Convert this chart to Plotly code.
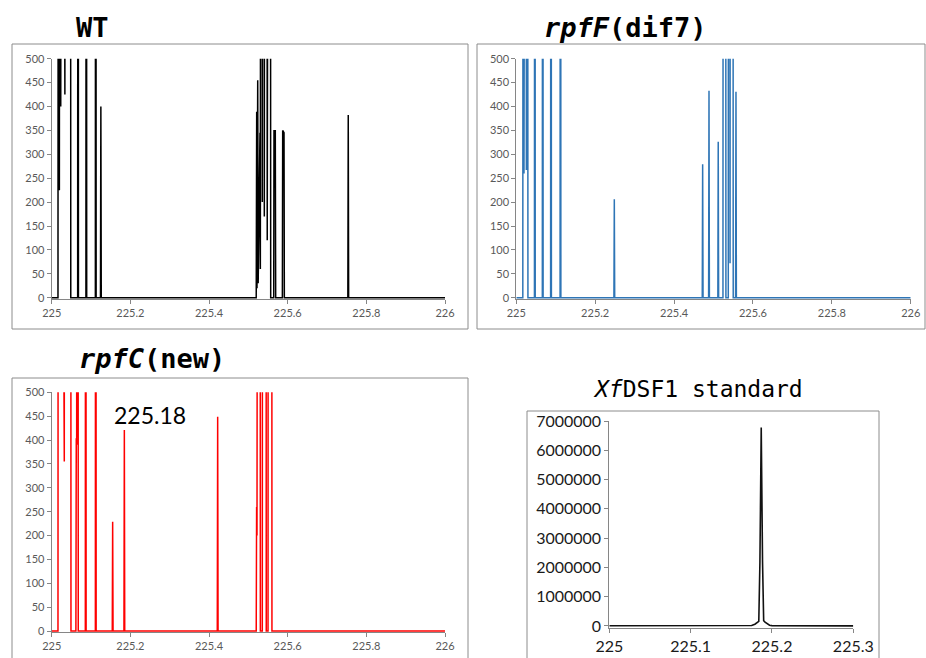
import plotly.graph_objects as go

W, H = 926, 658

# ---------------- data (m/z profile points, intensity) ----------------
WT_mz = [225.000, 225.016, 225.0175, 225.0195, 225.0215, 225.023, 225.0245, 225.0265, 225.0335, 225.035,
         225.047, 225.0485, 225.066, 225.067, 225.068, 225.087, 225.088, 225.089, 225.111, 225.112,
         225.113, 225.124, 225.125, 225.126,
         225.520, 225.5212, 225.522, 225.5238, 225.5250, 225.5296, 225.5305, 225.5322, 225.5345, 225.5355,
         225.5368, 225.5392, 225.5406, 225.5420, 225.5467, 225.5480, 225.5533, 225.5555, 225.5568,
         225.5645, 225.5652, 225.5668, 225.5685, 225.5695, 225.5865, 225.5873, 225.5907, 225.5915,
         225.753, 225.754, 225.755, 226.000]
WT_int = [0, 0, 3000, 225, 3000, 400, 3000, 3000, 425, 3000,
          3000, 0, 0, 3000, 0, 0, 3000, 0, 0, 3000,
          0, 0, 400, 0,
          0, 389, 20, 455, 30, 345, 60, 3000, 3000, 200,
          3000, 3000, 170, 3000, 3000, 120, 3000, 3000, 0,
          0, 351, 240, 351, 0, 0, 350, 345, 0,
          0, 382, 0, 0]

F_mz = [225.000, 225.0165, 225.018, 225.0195, 225.021, 225.0245, 225.0255, 225.0265, 225.028, 225.0295,
        225.046, 225.047, 225.048, 225.066, 225.067, 225.068, 225.087, 225.088, 225.089, 225.111,
        225.112, 225.113, 225.2475, 225.2485, 225.2495,
        225.4715, 225.4725, 225.4735, 225.4876, 225.4886, 225.4896, 225.511, 225.512, 225.513,
        225.524, 225.525, 225.530, 225.5315, 225.5375, 225.5385, 225.541, 225.542, 225.543, 225.5487,
        225.550, 225.556, 225.557, 225.558, 226.000]
F_int = [0, 0, 3000, 260, 3000, 3000, 267, 3000, 3000, 0,
         0, 3000, 0, 0, 3000, 0, 0, 3000, 0, 0,
         3000, 0, 0, 206, 0,
         0, 279, 0, 0, 433, 0, 0, 326, 0,
         0, 3000, 3000, 0, 0, 3000, 3000, 72, 3000, 3000,
         0, 0, 431, 0, 0]

C_mz = [225.000, 225.016, 225.017, 225.030, 225.032, 225.0335, 225.048, 225.049,
        225.0615, 225.0625, 225.0635, 225.0645, 225.0665, 225.0675,
        225.0855, 225.0865, 225.0875, 225.111, 225.112, 225.113,
        225.154, 225.155, 225.156, 225.1837, 225.1847, 225.1857, 225.421, 225.422, 225.423,
        225.520, 225.521, 225.522, 225.525, 225.529, 225.5305, 225.5355, 225.5365, 225.5445, 225.5455,
        225.550, 225.551, 225.559, 225.560, 226.000]
C_int = [0, 0, 3000, 3000, 355, 3000, 3000, 0,
         0, 404, 390, 3000, 3000, 0,
         0, 3000, 0, 0, 3000, 0,
         0, 229, 0, 0, 421, 0, 0, 449, 0,
         0, 260, 200, 3000, 3000, 0, 0, 3000, 3000, 0,
         0, 3000, 3000, 0, 0]

STD_mz = [225.000, 225.050, 225.100, 225.150, 225.175, 225.179, 225.1815, 225.1838, 225.1852,
          225.1868, 225.1884, 225.1898, 225.1915, 225.194, 225.197, 225.200, 225.250, 225.300]
STD_int = [8000, 6000, 5000, 8000, 15000, 60000, 130000, 160000, 2200000,
           6780000, 2200000, 180000, 130000, 70000, 25000, 12000, 6000, 4000]

MS_TICKS = [225, 225.2, 225.4, 225.6, 225.8, 226]
MS_TICKTEXT = ["225", "225.2", "225.4", "225.6", "225.8", "226"]
INT_TICKS = [0, 50, 100, 150, 200, 250, 300, 350, 400, 450, 500]
STD_XTICKS = [225, 225.1, 225.2, 225.3]
STD_XTEXT = ["225", "225.1", "225.2", "225.3"]
STD_YTICKS = [0, 1000000, 2000000, 3000000, 4000000, 5000000, 6000000, 7000000]

# ---------------- figure ----------------
def px_x(p):
    return p / W

def px_y(p):
    return 1 - p / H

fig = go.Figure()
fig.add_trace(go.Scatter(x=WT_mz, y=WT_int, mode="lines", line=dict(color="#000000", width=1.5),
                         xaxis="x", yaxis="y", showlegend=False, hoverinfo="skip"))
fig.add_trace(go.Scatter(x=F_mz, y=F_int, mode="lines", line=dict(color="#2E75B6", width=1.5),
                         xaxis="x2", yaxis="y2", showlegend=False, hoverinfo="skip"))
fig.add_trace(go.Scatter(x=C_mz, y=C_int, mode="lines", line=dict(color="#FF0000", width=1.5),
                         xaxis="x3", yaxis="y3", showlegend=False, hoverinfo="skip"))
fig.add_trace(go.Scatter(x=STD_mz, y=STD_int, mode="lines", line=dict(color="#111111", width=1.6),
                         xaxis="x4", yaxis="y4", showlegend=False, hoverinfo="skip"))

AX = "#868686"
small = dict(family="Lato", size=11, color="#595959")

def ms_x(dom, anchor):
    return dict(domain=dom, anchor=anchor, range=[225, 226], tickvals=MS_TICKS, ticktext=MS_TICKTEXT,
                ticks="outside", ticklen=4, tickcolor=AX, showline=True, linecolor=AX, linewidth=1,
                showgrid=False, zeroline=False, tickfont=small, fixedrange=True, automargin=False)

def ms_y(dom, anchor):
    return dict(domain=dom, anchor=anchor, range=[-2.5, 500], tickvals=INT_TICKS,
                ticks="outside", ticklen=4, tickcolor=AX, showline=True, linecolor=AX, linewidth=1,
                showgrid=False, zeroline=False, tickfont=small, fixedrange=True, automargin=False)

top_y = [px_y(298.9), px_y(58.7)]
bot_y = [px_y(632.2), px_y(392.3)]
left_x = [px_x(51.7), px_x(445)]
right_x = [px_x(516.3), px_x(910.7)]

fig.update_layout(
    width=W, height=H, margin=dict(l=0, r=0, t=0, b=0, autoexpand=False),
    paper_bgcolor="white", plot_bgcolor="white",
    font=dict(family="Lato"),
    xaxis=ms_x(left_x, "y"), yaxis=ms_y(top_y, "x"),
    xaxis2=ms_x(right_x, "y2"), yaxis2=ms_y(top_y, "x2"),
    xaxis3=ms_x(left_x, "y3"), yaxis3=ms_y(bot_y, "x3"),
    xaxis4=dict(domain=[px_x(609.3), px_x(853.3)], anchor="y4", range=[225, 225.3],
                tickvals=STD_XTICKS, ticktext=STD_XTEXT, ticks="outside", ticklen=4, tickcolor=AX,
                showline=True, linecolor=AX, showgrid=False, zeroline=False, automargin=False,
                tickfont=dict(family="Lato", size=16, color="#1a1a1a"), fixedrange=True),
    yaxis4=dict(domain=[px_y(628), px_y(421)], anchor="x4", range=[-70000, 7000000],
                tickvals=STD_YTICKS, tickformat="d", ticks="outside", ticklen=4, tickcolor=AX,
                showline=True, linecolor=AX, showgrid=False, zeroline=False, automargin=False,
                tickfont=dict(family="Lato", size=16, color="#1a1a1a"), fixedrange=True),
)

# chart-area borders
BORD = dict(color="#8C8C8C", width=1)
for (x0, y0, x1, y1) in [(12, 44, 468, 329), (477, 44, 925, 329), (12, 378, 468, 700), (527, 411, 879, 700)]:
    fig.add_shape(type="rect", xref="paper", yref="paper", x0=px_x(x0), x1=px_x(x1),
                  y0=px_y(y1), y1=px_y(y0), line=BORD, fillcolor="rgba(0,0,0,0)", layer="below")

TF = "DejaVu Sans Mono"
titles = [
    ("<b>WT</b>", 92, 28, 27),
    ("<b><i>rpfF</i>(dif7)</b>", 625, 27, 27),
    ("<b><i>rpfC</i>(new)</b>", 152, 358, 27),
    ("<i>Xf</i>DSF1 standard", 698, 389, 23),
]
for text, cx, cy, size in titles:
    fig.add_annotation(text=text, xref="paper", yref="paper", x=px_x(cx), y=px_y(cy),
                       xanchor="center", yanchor="middle", showarrow=False,
                       font=dict(family=TF, size=size, color="#000000"))

fig.add_annotation(text="225.18", xref="paper", yref="paper", x=px_x(150), y=px_y(415),
                   xanchor="center", yanchor="middle", showarrow=False,
                   font=dict(family="Lato", size=23, color="#000000"))

fig.write_html("out.html")
